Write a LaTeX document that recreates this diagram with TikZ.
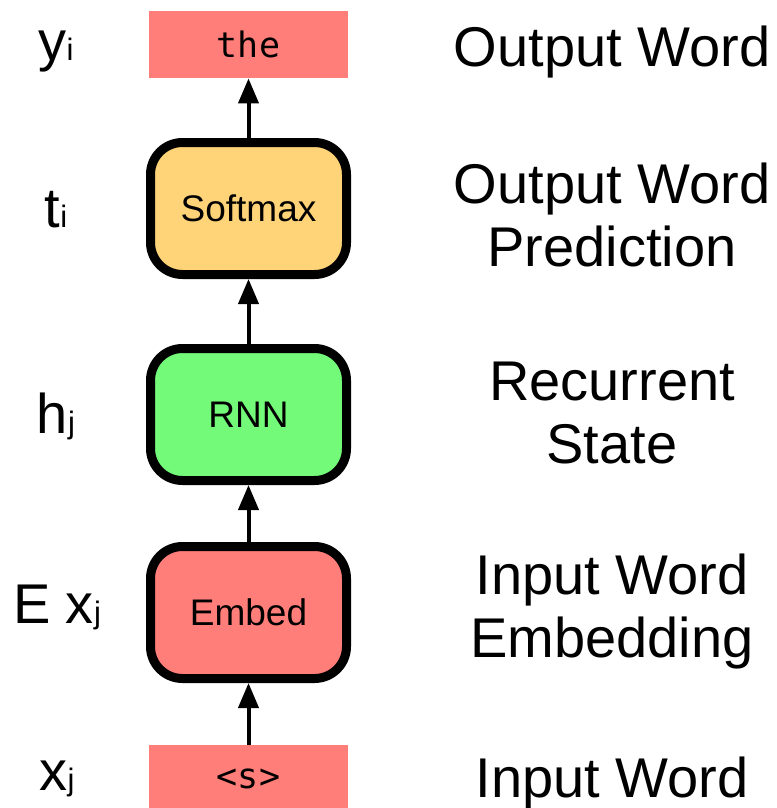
\documentclass[tikz,border=0pt]{standalone}
\usepackage{fontspec}
\setmainfont{Liberation Sans}
\newfontfamily\wordfont{DejaVu Sans Mono}
\usetikzlibrary{arrows.meta}

\definecolor{salmon}{HTML}{FF7E79}
\definecolor{cantaloupe}{HTML}{FFD479}
\definecolor{flora}{HTML}{73FA79}
\newcommand{\lsub}[1]{{\fontsize{15.5}{16}\selectfont #1}}

\begin{document}
\begin{tikzpicture}[x=0.5pt, y=-0.5pt,
  layer/.style={draw, line width=4.5pt, rounded corners=16pt, minimum width=98pt, minimum height=66pt, font=\fontsize{18.5}{20}\selectfont},
  word/.style={fill=salmon, minimum width=99.5pt, minimum height=33.5pt, inner sep=0pt, font=\wordfont\fontsize{17.5}{20}\selectfont},
  sym/.style={anchor=base, font=\fontsize{28}{32}\selectfont},
  desc/.style={anchor=base, align=center, font=\fontsize{28}{31.5}\selectfont},
  flow/.style={-{Triangle[length=12.5pt,width=10pt]}, line width=2pt}]
\fill[white] (0,0) rectangle (776,808);
\useasboundingbox (0,0) rectangle (776,808);
% the stack
\node[word] (out) at (248.5,44.5) {the};
\node[layer, fill=cantaloupe] (soft) at (248.5,208.5) {Softmax};
\node[layer, fill=flora] (rnn) at (248.5,414.5) {RNN};
\node[layer, fill=salmon] (embed) at (248.5,612.5) {Embed};
\node[word] (in) at (248.5,778.5) {<s>};
\draw[flow] (in) -- (embed);
\draw[flow] (embed) -- (rnn);
\draw[flow] (rnn) -- (soft);
\draw[flow] (soft) -- (out);
% symbols on the left
\node[sym] (yi) at (56,61) {y\lsub{i}};
\node[sym] (ti) at (56,227) {t\lsub{i}};
\node[sym] (hj) at (56,433) {h\lsub{j}};
\node[sym] (exj) at (57,623) {E x\lsub{j}};
\node[sym] (xj) at (57,790) {x\lsub{j}};
% descriptions on the right (base = last line)
\node[desc] (dout) at (612,67) {Output Word};
\node[desc] (dsoft) at (612,266) {Output Word\\Prediction};
\node[desc] (drnn) at (612,463) {Recurrent\\State};
\node[desc] (dembed) at (612,657) {Input Word\\Embedding};
\node[desc] (din) at (612,797) {Input Word};
\end{tikzpicture}
\end{document}
